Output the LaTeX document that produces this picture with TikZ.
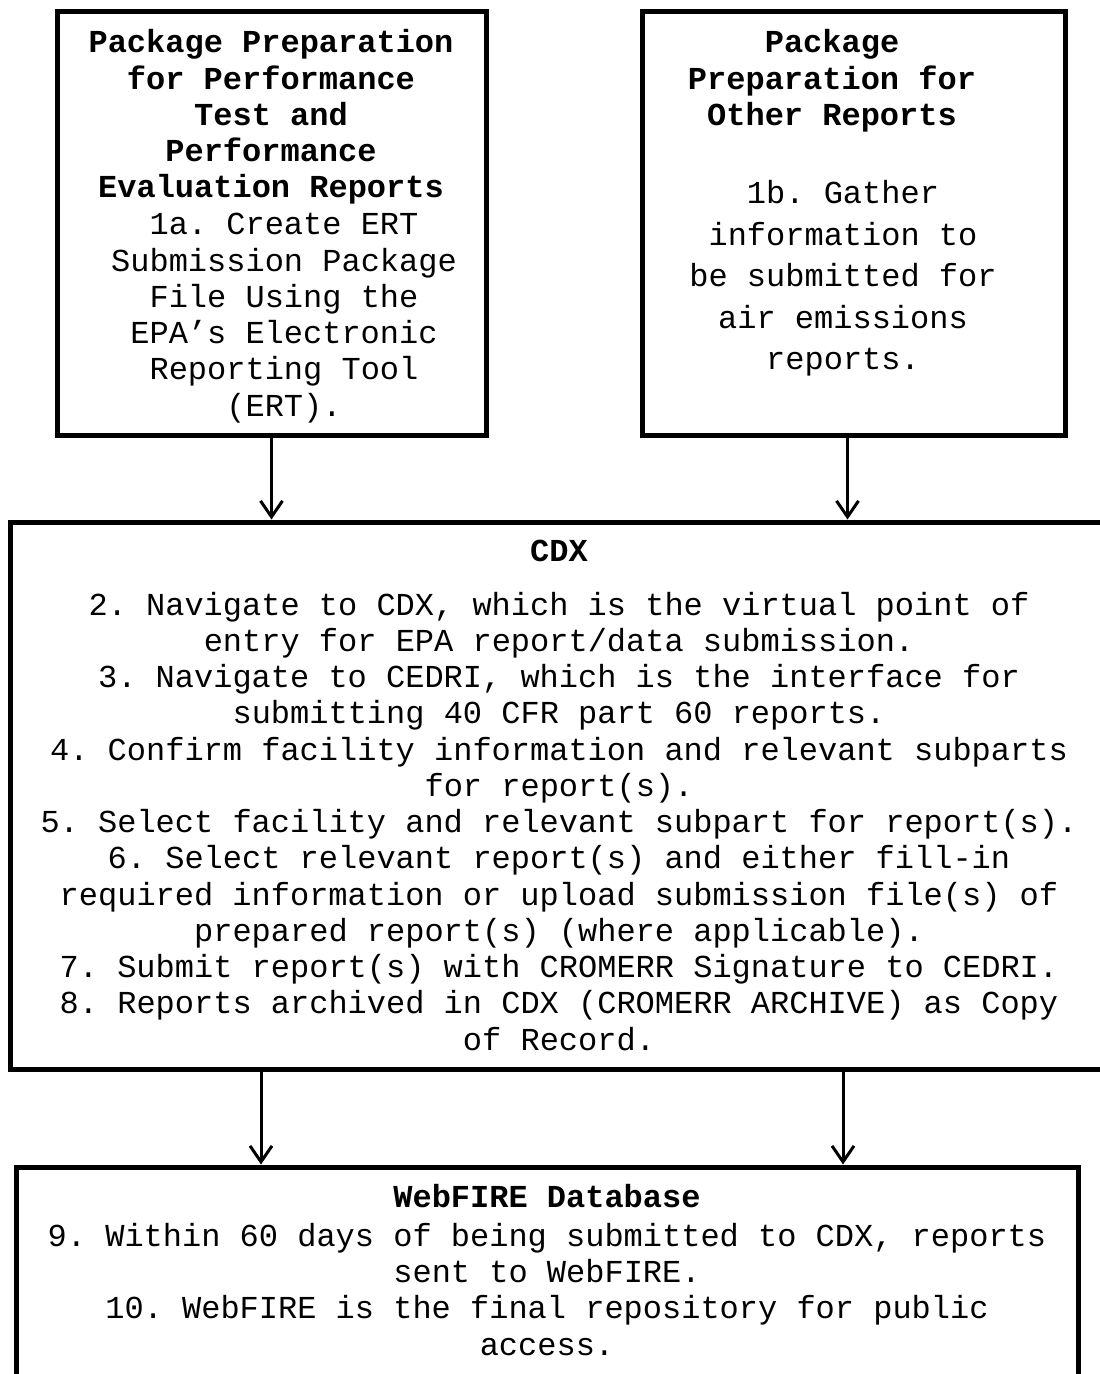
\documentclass[tikz,border=0pt]{standalone}
\usepackage{fontspec}
\newfontfamily\courfont{Liberation Mono}
\newcommand\monospaces{\frenchspacing\spaceskip=9.6pt\relax\xspaceskip=9.6pt\relax}
\usetikzlibrary{fit,arrows.meta}
\tikzset{
  flowbox/.style   = {draw, line width=2.5pt, inner sep=0pt},
  flowtext/.style  = {inner sep=0pt, anchor=base, align=center,
                      execute at begin node=\monospaces,
                      font=\courfont\fontsize{16pt}{18.125pt}\selectfont},
  headtext/.style  = {flowtext,
                      font=\courfont\bfseries\fontsize{16pt}{18.125pt}\selectfont},
  loosetext/.style = {flowtext,
                      font=\courfont\fontsize{16pt}{20.75pt}\selectfont},
  flowarrow/.style = {-{Straight Barb[length=8pt,width=11pt]}, line width=1.5pt},
}

\begin{document}
\begin{tikzpicture}[x=0.5pt,y=-0.5pt]
  \useasboundingbox (0,0) rectangle (1099,1374);

  % boxes
  \node[flowbox, fit={(57,12) (486,435)}]    (ert)   {};
  \node[flowbox, fit={(642,12) (1065,435)}]  (other) {};
  \node[flowbox, fit={(10,522) (1115,1069)}] (cdx)   {};
  \node[flowbox, fit={(16,1167) (1078,1420)}] (web)  {};

  % texts
  \node[headtext, text width=210pt] (ert-head) at (271,53)
    {Package Preparation\\for Performance\\Test and\\Performance\\Evaluation Reports};
  \node[flowtext, text width=210pt] (ert-body) at (284,235)
    {1a. Create ERT\\Submission Package\\File Using the\\EPA’s Electronic\\Reporting Tool\\(ERT).};
  \node[headtext, text width=210pt] (other-head) at (832,53)
    {Package\\Preparation for\\Other Reports};
  \node[loosetext, text width=210pt] (other-body) at (843,204)
    {1b. Gather\\information to\\be submitted for\\air emissions\\reports.};
  \node[flowtext, text width=540pt] (cdx-text) at (559,561)
    {\textbf{CDX}\\[8.9pt]
     2. Navigate to CDX, which is the virtual point of\\
     entry for EPA report/data submission.\\
     3. Navigate to CEDRI, which is the interface for\\
     submitting 40 CFR part 60 reports.\\
     4. Confirm facility information and relevant subparts\\
     for report(s).\\
     5. Select facility and relevant subpart for report(s).\\
     6. Select relevant report(s) and either fill-in\\
     required information or upload submission file(s) of\\
     prepared report(s) (where applicable).\\
     7. Submit report(s) with CROMERR Signature to CEDRI.\\
     8. Reports archived in CDX (CROMERR ARCHIVE) as Copy\\
     of Record.};
  \node[flowtext, text width=540pt] (web-text) at (547,1207)
    {\textbf{WebFIRE Database}\\[1.5pt]
     9. Within 60 days of being submitted to CDX, reports\\
     sent to WebFIRE.\\
     10. WebFIRE is the final repository for public\\
     access.};

  % arrows
  \coordinate (left-drop)  at (261,1069);
  \coordinate (right-drop) at (843,1069);
  \draw[flowarrow] (ert.south)   -- (ert.south |- cdx.north);
  \draw[flowarrow] ([xshift=-3pt]other.south) -- ([xshift=-3pt]other.south |- cdx.north);
  \draw[flowarrow] (cdx.south -| left-drop)  -- (web.north -| left-drop);
  \draw[flowarrow] (cdx.south -| right-drop) -- (web.north -| right-drop);
\end{tikzpicture}
\end{document}
